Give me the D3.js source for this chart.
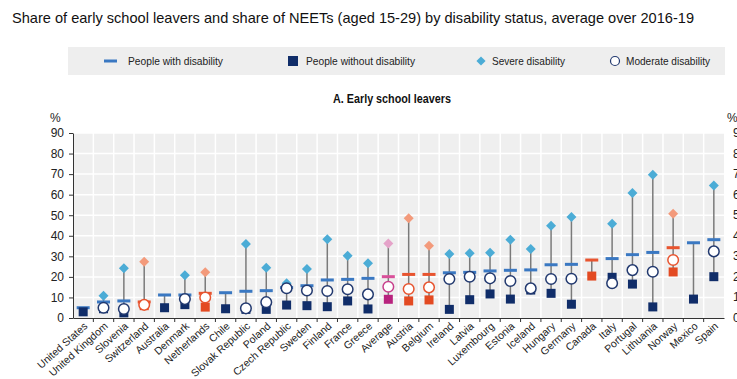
<!DOCTYPE html>
<html>
<head>
<meta charset="utf-8">
<script src="https://cdn.jsdelivr.net/npm/d3@7"></script>
<style>
  body { margin: 0; background: #fff; }
  svg { font-family: "Liberation Sans", Arial, sans-serif; display: block; }
</style>
</head>
<body>
<svg width="737" height="379"></svg>
<script>
// Data (%)
const countries = ["United States", "United Kingdom", "Slovenia", "Switzerland", "Australia", "Denmark",
  "Netherlands", "Chile", "Slovak Republic", "Poland", "Czech Republic", "Sweden", "Finland", "France",
  "Greece", "Average", "Austria", "Belgium", "Ireland", "Latvia", "Luxembourg", "Estonia", "Iceland",
  "Hungary", "Germany", "Canada", "Italy", "Portugal", "Lithuania", "Norway", "Mexico", "Spain"];
const withDisability = [5, 7.8, 8.3, 7.8, 11.2, 11.2, 12, 12.3, 13, 13.3, 14.8, 15.7, 18.5, 18.8,
  19.3, 20.1, 21.2, 21.2, 22, 22.2, 22.9, 23.2, 23.4, 25.9, 26.1, 28.2, 28.9, 30.8, 31.9, 34.2, 36.6, 38.1];
const withoutDisability = [3, 4.5, 2.5, 6, 5, 6.5, 5.3, 4.5, 4.2, 4.2, 6.3, 6, 5.5, 8.3,
  4.4, 9.1, 8.3, 8.8, 4.2, 8.9, 11.7, 9.2, 13.6, 12, 6.7, 20.4, 19.8, 16.5, 5.4, 22.4, 9.2, 20.1];
const severeDisability = [null, 10.8, 24.2, 27.4, null, 20.8, 22.3, null, 36, 24.5, 16.9, 23.8, 38.3, 30.3,
  26.6, 36.3, 48.5, 35.2, 31.1, 31.5, 31.8, 38.1, 33.6, 44.9, 49.1, null, 45.9, 60.8, 69.7, 50.7, null, 64.5];
const moderateDisability = [null, 5, 4.4, 6.4, null, 9.2, 10, null, 4.7, 7.7, 14.5, 13.4, 13.1, 14,
  11.5, 15.2, 14.1, 14.9, 19, 20.1, 19.3, 18, 14.4, 19, 19.1, null, 16.9, 23.3, 22.5, 28.2, null, 32.4];
// group: 0 = standard, 1 = highlighted (orange), 2 = OECD average
const group = [0, 0, 0, 1, 0, 0, 1, 0, 0, 0, 0, 0, 0, 0, 0, 2, 1, 1, 0, 0, 0, 0, 0, 0, 0, 1, 0, 0, 0, 1, 0, 0];
const yTicks = [0, 10, 20, 30, 40, 50, 60, 70, 80, 90];
const legendLabels = ["People with disability", "People without disability", "Severe disability", "Moderate disability"];

const palette = [
  { dash: "#3a78c2", square: "#102d69", diamond: "#4bacd6", circle: "#22396f" },
  { dash: "#e8542f", square: "#e34a22", diamond: "#f39a7b", circle: "#e8542f" },
  { dash: "#d9509a", square: "#b8237e", diamond: "#e5a3c9", circle: "#c8408c" }
];

const rows = countries.map((c, i) => ({
  name: c, w: withDisability[i], wo: withoutDisability[i],
  sev: severeDisability[i], mod: moderateDisability[i], g: group[i]
}));

const svg = d3.select("svg");
const plot = { left: 73, right: 724, top: 133, bottom: 318 };

// Title
svg.append("text")
  .attr("x", 12).attr("y", 23)
  .attr("textLength", 682).attr("lengthAdjust", "spacingAndGlyphs")
  .style("font-size", "15px").style("fill", "#111")
  .text("Share of early school leavers and share of NEETs (aged 15-29) by disability status, average over 2016-19");

// Legend
svg.append("rect").attr("x", 68).attr("y", 47).attr("width", 657).attr("height", 28).attr("fill", "#eeeeee");
const lg = svg.append("g").style("font-size", "11px").style("fill", "#222");
lg.append("rect").attr("x", 104).attr("y", 59.5).attr("width", 13).attr("height", 3).attr("fill", palette[0].dash);
lg.append("rect").attr("x", 288).attr("y", 56).attr("width", 10).attr("height", 10).attr("fill", palette[0].square);
lg.append("path").attr("d", d3.symbol(d3.symbolSquare, 42)()).attr("transform", "translate(481,61) rotate(45)").attr("fill", palette[0].diamond);
lg.append("circle").attr("cx", 615).attr("cy", 61).attr("r", 4.5).attr("fill", "#fff").attr("stroke", palette[0].circle).attr("stroke-width", 1.2);
const legendX = [128, 306, 492, 626];
const legendW = [95, 109, 73, 84];
lg.selectAll(".lt").data(legendLabels).join("text")
  .attr("class", "lt")
  .attr("x", (d, i) => legendX[i]).attr("y", 65)
  .attr("textLength", (d, i) => legendW[i]).attr("lengthAdjust", "spacingAndGlyphs")
  .text(d => d);

// Subtitle
svg.append("text")
  .attr("x", 333).attr("y", 103)
  .attr("textLength", 118).attr("lengthAdjust", "spacingAndGlyphs")
  .style("font-size", "12px").style("font-weight", "bold").style("fill", "#111")
  .text("A. Early school leavers");

// Scales
const x = d3.scaleBand().domain(countries).range([plot.left, plot.right]).padding(0);
const y = d3.scaleLinear().domain([0, 90]).range([plot.bottom, plot.top]);

// Plot background + grid
svg.append("rect")
  .attr("x", plot.left).attr("y", plot.top)
  .attr("width", plot.right - plot.left).attr("height", plot.bottom - plot.top)
  .attr("fill", "#efefef");
svg.append("g").selectAll("line").data(yTicks.slice(1)).join("line")
  .attr("x1", plot.left).attr("x2", plot.right)
  .attr("y1", d => y(d)).attr("y2", d => y(d))
  .attr("stroke", "#fff").attr("stroke-width", 1.5);
svg.append("g").selectAll("line").data(countries.slice(1)).join("line")
  .attr("x1", d => x(d)).attr("x2", d => x(d))
  .attr("y1", plot.top).attr("y2", plot.bottom)
  .attr("stroke", "#fff").attr("stroke-width", 1.5);

// Y axis
const yAxis = svg.append("g")
  .attr("transform", `translate(${plot.left},0)`)
  .call(d3.axisLeft(y).tickValues(yTicks).tickSize(4).tickPadding(5).tickSizeOuter(0));
yAxis.select(".domain").attr("stroke", "#333");
yAxis.selectAll(".tick line").attr("stroke", "#333");
yAxis.selectAll("text").style("font-size", "12px").style("fill", "#222").style("font-family", "Liberation Sans, Arial, sans-serif");
svg.append("text").attr("x", 50).attr("y", 122).style("font-size", "12px").style("fill", "#222").text("%");

// Second panel's axis, cut off by the right edge as in the reference
svg.append("text").attr("x", 727).attr("y", 122).style("font-size", "12px").style("fill", "#222").text("%");
svg.append("g").selectAll("text").data(yTicks).join("text")
  .attr("x", 733).attr("y", d => y(d) + 4)
  .style("font-size", "12px").style("fill", "#222")
  .text(d => d);

// X axis
const xAxis = svg.append("g")
  .attr("transform", `translate(0,${plot.bottom})`)
  .call(d3.axisBottom(x).tickSize(0).tickSizeOuter(0).tickPadding(0));
xAxis.select(".domain").attr("stroke", "#333");
xAxis.selectAll(".tick text")
  .attr("text-anchor", "end")
  .attr("dy", 0).attr("y", 0)
  .attr("transform", "translate(5,9) rotate(-42)")
  .style("font-size", "10.5px").style("fill", "#222")
  .style("font-family", "Liberation Sans, Arial, sans-serif");
svg.append("g").selectAll("line").data(countries.slice(1)).join("line")
  .attr("x1", d => x(d)).attr("x2", d => x(d))
  .attr("y1", plot.bottom).attr("y2", plot.bottom + 4)
  .attr("stroke", "#333");

// Marks
const cx = d => x(d.name) + x.bandwidth() / 2;
const vals = d => [d.w, d.wo, d.sev, d.mod].filter(v => v != null);
const marks = svg.append("g");

marks.selectAll(".range").data(rows).join("line")
  .attr("class", "range")
  .attr("x1", cx).attr("x2", cx)
  .attr("y1", d => y(d3.min(vals(d)))).attr("y2", d => y(d3.max(vals(d))))
  .attr("stroke", "#7a7a7a").attr("stroke-width", 1.5);

marks.selectAll(".sev").data(rows.filter(d => d.sev != null)).join("path")
  .attr("class", "sev")
  .attr("d", d3.symbol(d3.symbolSquare, 50)())
  .attr("transform", d => `translate(${cx(d)},${y(d.sev)}) rotate(45)`)
  .attr("fill", d => palette[d.g].diamond);

marks.selectAll(".dash").data(rows).join("rect")
  .attr("class", "dash")
  .attr("x", d => cx(d) - 6.5).attr("y", d => y(d.w) - 1.5)
  .attr("width", 13).attr("height", 3)
  .attr("fill", d => palette[d.g].dash);

marks.selectAll(".wo").data(rows).join("rect")
  .attr("class", "wo")
  .attr("x", d => cx(d) - 4.5).attr("y", d => y(d.wo) - 4.5)
  .attr("width", 9).attr("height", 9)
  .attr("fill", d => palette[d.g].square);

marks.selectAll(".mod").data(rows.filter(d => d.mod != null)).join("circle")
  .attr("class", "mod")
  .attr("cx", cx).attr("cy", d => y(d.mod))
  .attr("r", 5.3)
  .attr("fill", "#fff")
  .attr("stroke", d => palette[d.g].circle).attr("stroke-width", 1.5);
</script>
</body>
</html>
